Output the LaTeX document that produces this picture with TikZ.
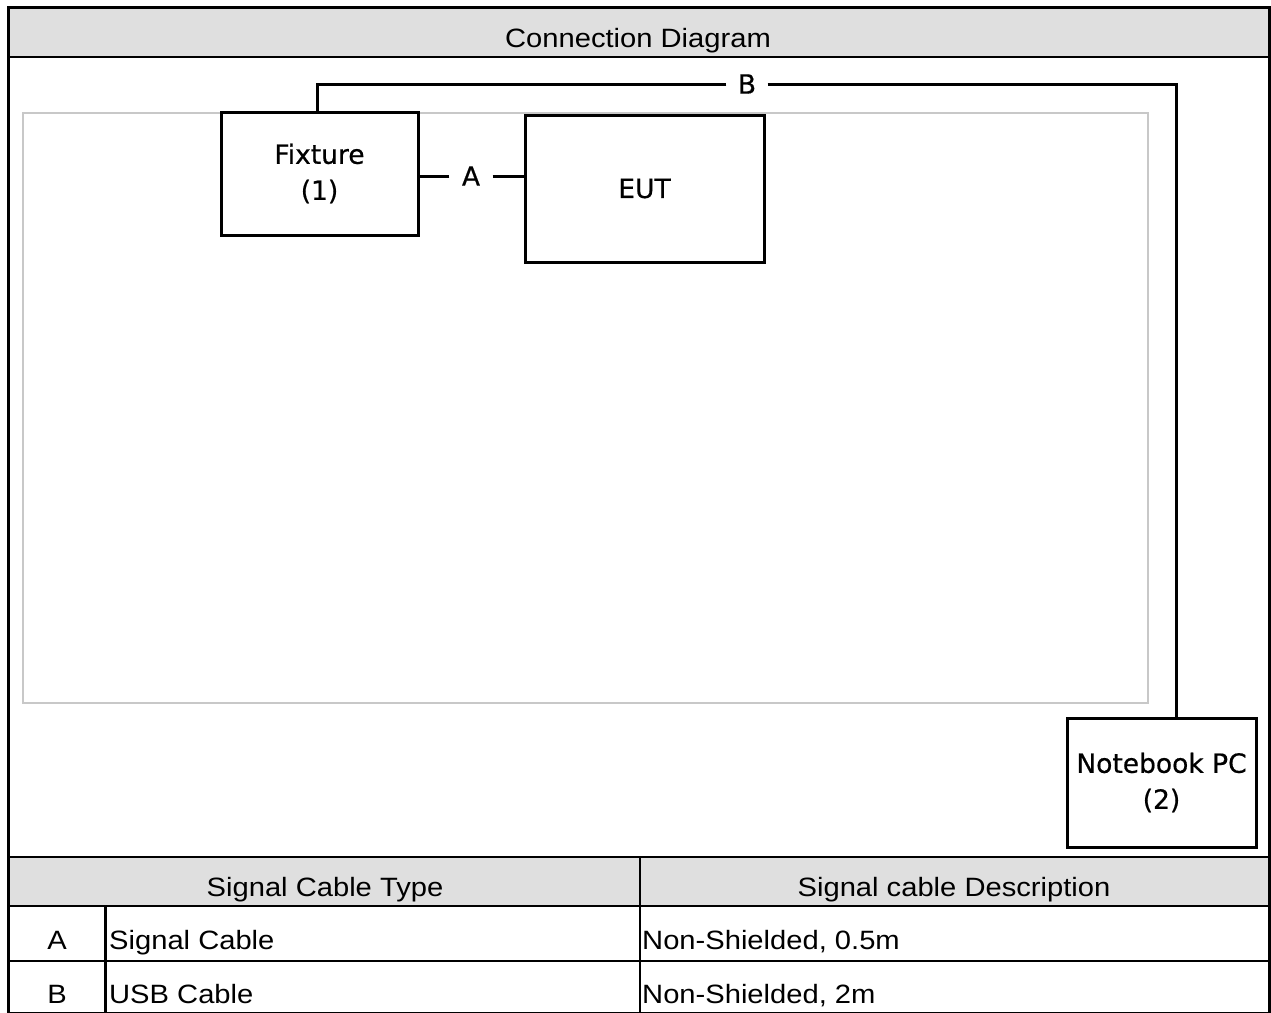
\documentclass[tikz,border=0pt]{standalone}
\usepackage{fontspec}
\setmainfont{Liberation Sans}[FakeStretch=1.1]
\newfontfamily\djfont{DejaVu Sans}[FakeBold=0.6]
\definecolor{hdrgray}{HTML}{DFDFDF}
\definecolor{areagray}{HTML}{C8C8C8}
\begin{document}
\begin{tikzpicture}[x=1pt,y=-1pt,
  frameline/.style={line width=3pt},
  gridline/.style={line width=2.6pt},
  device/.style={draw, line width=3pt, inner sep=0pt, align=center,
    font=\djfont\fontsize{26.5}{36}\selectfont},
  cable/.style={line width=3pt},
  cablelabel/.style={inner ysep=0pt, font=\djfont\fontsize{26.5}{30}\selectfont},
  tabtext/.style={inner sep=0pt, anchor=base, font=\fontsize{26.5}{30}\selectfont},
  tableft/.style={tabtext, anchor=base west},
  area/.style={draw=areagray, line width=1.4pt}
]
\useasboundingbox (0,0) rectangle (1271,1012);
% header bands
\fill[hdrgray] (8,7) rectangle (1269,57);
\fill[hdrgray] (8,857) rectangle (1269,906);
% test area
\draw[area] (23,113) rectangle (1148,703);
% frame and table grid
\draw[gridline] (8,57) -- (1269,57);
\draw[gridline] (8,857) -- (1269,857);
\draw[gridline] (8,906) -- (1269,906);
\draw[gridline] (8,961) -- (1269,961);
\draw[gridline] (640,857) -- (640,1013);
\draw[gridline] (105.5,906) -- (105.5,1013);
\draw[frameline] (8,7) rectangle (1269,1013.5);
% titles
\node[tabtext] (title) at (638,47) {Connection Diagram};
\node[tabtext] (coltype) at (325,896) {Signal Cable Type};
\node[tabtext] (coldesc) at (954,896) {Signal cable Description};
\node[tabtext] (rowA) at (57,949) {A};
\node[tableft] (typeA) at (109,949) {Signal Cable};
\node[tableft] (descA) at (642,949) {Non-Shielded, 0.5m};
\node[tabtext] (rowB) at (57,1003) {B};
\node[tableft] (typeB) at (109,1003) {USB Cable};
\node[tableft] (descB) at (642,1003) {Non-Shielded, 2m};
% devices
\node[device, minimum width=197pt, minimum height=123pt] (fix) at (319.5,173.5) {Fixture\\(1)};
\node[device, minimum width=239pt, minimum height=147pt] (eut) at (644.5,188.5) {EUT};
\node[device, minimum width=189pt, minimum height=129pt] (nb) at (1161.5,782.5) {Notebook PC\\(2)};
% cable A
\node[cablelabel, inner xsep=12.4pt] (A) at (471,176) {A};
\draw[cable] (A.west) -- (A.west -| fix.east);
\draw[cable] (A.east) -- (A.east -| eut.west);
% cable B
\node[cablelabel, inner xsep=11.4pt] (B) at (747,84) {B};
\coordinate (bL) at (317,84);
\coordinate (bR) at (1176,84);
\draw[cable] (B.west) -- (bL) -- (bL |- fix.north);
\draw[cable] (B.east) -- (bR) -- (bR |- nb.north);
\end{tikzpicture}
\end{document}
